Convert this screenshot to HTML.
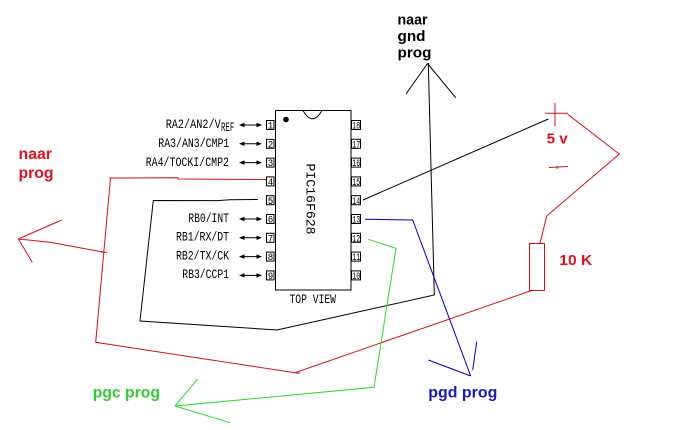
<!DOCTYPE html>
<html><head><meta charset="utf-8"><style>
html,body{margin:0;padding:0;background:#fff;}
svg{display:block;}
.pl{font-family:"Liberation Mono",monospace;font-size:13px;fill:#000;}
.pn{font-family:"Liberation Mono",monospace;font-size:10px;fill:#000;}
.b{font-family:"Liberation Sans",Arial,sans-serif;font-weight:bold;}
</style></head><body>
<svg width="694" height="430" viewBox="0 0 694 430" xmlns="http://www.w3.org/2000/svg">
<rect width="694" height="430" fill="#fff"/>
<defs>
<g id="arr">
<line x1="241" y1="0" x2="260" y2="0" stroke="#000" stroke-width="1"/>
<polygon points="239,0 244.5,-2.2 244.5,2.2" fill="#000"/>
<polygon points="262,0 256.5,-2.2 256.5,2.2" fill="#000"/>
</g>
</defs>

<!-- chip body -->
<rect x="275.5" y="110.5" width="75.5" height="179.5" fill="none" stroke="#000" stroke-width="1"/>
<path d="M303 110.5 Q312.5 127 322 110.5" fill="none" stroke="#000" stroke-width="1"/>
<circle cx="286" cy="119.5" r="2.8" fill="#000"/>
<text class="pl" transform="translate(306.5,163.5) rotate(90)" font-size="22" textLength="71" lengthAdjust="spacingAndGlyphs">PIC16F628</text>
<text class="pl" x="289.5" y="303" font-size="12" textLength="46.5" lengthAdjust="spacingAndGlyphs">TOP VIEW</text>

<!-- left pin boxes -->
<g stroke="#000" stroke-width="1" fill="none">
<rect x="266.5" y="120.5" width="7.5" height="9"/>
<rect x="266.5" y="139.3" width="7.5" height="9"/>
<rect x="266.5" y="158.1" width="7.5" height="9"/>
<rect x="266.5" y="176.9" width="7.5" height="9"/>
<rect x="266.5" y="195.7" width="7.5" height="9"/>
<rect x="266.5" y="214.5" width="7.5" height="9"/>
<rect x="266.5" y="233.3" width="7.5" height="9"/>
<rect x="266.5" y="252.1" width="7.5" height="9"/>
<rect x="266.5" y="270.9" width="7.5" height="9"/>
</g>
<g class="pn">
<text x="267.8" y="128.6" textLength="5.5" lengthAdjust="spacingAndGlyphs">1</text>
<text x="267.8" y="147.4" textLength="5.5" lengthAdjust="spacingAndGlyphs">2</text>
<text x="267.8" y="166.2" textLength="5.5" lengthAdjust="spacingAndGlyphs">3</text>
<text x="267.8" y="185" textLength="5.5" lengthAdjust="spacingAndGlyphs">4</text>
<text x="267.8" y="203.8" textLength="5.5" lengthAdjust="spacingAndGlyphs">5</text>
<text x="267.8" y="222.6" textLength="5.5" lengthAdjust="spacingAndGlyphs">6</text>
<text x="267.8" y="241.4" textLength="5.5" lengthAdjust="spacingAndGlyphs">7</text>
<text x="267.8" y="260.2" textLength="5.5" lengthAdjust="spacingAndGlyphs">8</text>
<text x="267.8" y="279" textLength="5.5" lengthAdjust="spacingAndGlyphs">9</text>
</g>

<!-- right pin boxes -->
<g stroke="#000" stroke-width="1" fill="none">
<rect x="351.5" y="120.5" width="9" height="9"/>
<rect x="351.5" y="139.3" width="9" height="9"/>
<rect x="351.5" y="158.1" width="9" height="9"/>
<rect x="351.5" y="176.9" width="9" height="9"/>
<rect x="351.5" y="195.7" width="9" height="9"/>
<rect x="351.5" y="214.5" width="9" height="9"/>
<rect x="351.5" y="233.3" width="9" height="9"/>
<rect x="351.5" y="252.1" width="9" height="9"/>
<rect x="351.5" y="270.9" width="9" height="9"/>
</g>
<g class="pn">
<text x="352.3" y="128.6" textLength="8" lengthAdjust="spacingAndGlyphs">18</text>
<text x="352.3" y="147.4" textLength="8" lengthAdjust="spacingAndGlyphs">17</text>
<text x="352.3" y="166.2" textLength="8" lengthAdjust="spacingAndGlyphs">16</text>
<text x="352.3" y="185" textLength="8" lengthAdjust="spacingAndGlyphs">15</text>
<text x="352.3" y="203.8" textLength="8" lengthAdjust="spacingAndGlyphs">14</text>
<text x="352.3" y="222.6" textLength="8" lengthAdjust="spacingAndGlyphs">13</text>
<text x="352.3" y="241.4" textLength="8" lengthAdjust="spacingAndGlyphs">12</text>
<text x="352.3" y="260.2" textLength="8" lengthAdjust="spacingAndGlyphs">11</text>
<text x="352.3" y="279" textLength="8" lengthAdjust="spacingAndGlyphs">10</text>
</g>

<!-- pin labels + arrows -->
<text class="pl" x="165.7" y="128" textLength="55" lengthAdjust="spacingAndGlyphs">RA2/AN2/V</text>
<text class="pl" x="221" y="131.2" font-size="11" textLength="13.3" lengthAdjust="spacingAndGlyphs">REF</text>
<use href="#arr" y="125"/>
<text class="pl" x="158.3" y="147" textLength="71" lengthAdjust="spacingAndGlyphs">RA3/AN3/CMP1</text>
<use href="#arr" y="143.8"/>
<text class="pl" x="145.7" y="165.8" textLength="83.3" lengthAdjust="spacingAndGlyphs">RA4/TOCKI/CMP2</text>
<use href="#arr" y="162.6"/>
<text class="pl" x="188.3" y="221.8" textLength="40.7" lengthAdjust="spacingAndGlyphs">RB0/INT</text>
<use href="#arr" y="219"/>
<text class="pl" x="176" y="240.6" textLength="53" lengthAdjust="spacingAndGlyphs">RB1/RX/DT</text>
<use href="#arr" y="237.8"/>
<text class="pl" x="176" y="259.4" textLength="53" lengthAdjust="spacingAndGlyphs">RB2/TX/CK</text>
<use href="#arr" y="256.6"/>
<text class="pl" x="182.3" y="278.2" textLength="46.7" lengthAdjust="spacingAndGlyphs">RB3/CCP1</text>
<use href="#arr" y="275.4"/>

<!-- black wires -->
<g stroke="#000" stroke-width="1" fill="none">
<polyline points="258,199.5 230,199.8 217,200.6 153.3,200.5 140,321 277,330 434.3,295 428.3,63"/>
<line x1="427.5" y1="63.5" x2="406" y2="94"/>
<line x1="427.5" y1="63.5" x2="455.7" y2="97.7"/>
<line x1="363" y1="200" x2="548.3" y2="119"/>
</g>

<!-- red wires -->
<g stroke="#d0101c" stroke-width="1" fill="none">
<polyline points="266,179.5 178,179 178,177.8 110.5,178 95.7,342.3 295,372.7 531.7,290.5"/>
<line x1="109" y1="178" x2="113" y2="178"/>
<polyline points="18.3,239 50,242.3 104,252.3"/>
<line x1="18.3" y1="239" x2="61.7" y2="220"/>
<line x1="18.3" y1="239" x2="32.3" y2="262.3"/>
<line x1="101" y1="252.3" x2="107" y2="252.3"/>
<line x1="295" y1="372.7" x2="300" y2="373.3"/>
<line x1="555" y1="103" x2="555" y2="126"/>
<line x1="545" y1="113.3" x2="568" y2="113.3"/>
<polyline points="567.7,114.3 619.3,154 546.7,216 540,243.3"/>
<line x1="549" y1="167.5" x2="568" y2="166.5"/>
<line x1="557" y1="166" x2="557" y2="169"/>
<rect x="529.5" y="243.5" width="15" height="47"/>
</g>

<!-- blue wires -->
<g stroke="#0000b0" stroke-width="1" fill="none">
<polyline points="365,219.3 412.7,220 470.7,376"/>
<line x1="470.7" y1="376" x2="428.3" y2="360"/>
<line x1="476.7" y1="341.7" x2="472.7" y2="370"/>
</g>

<!-- green wires -->
<g stroke="#22dd22" stroke-width="1" fill="none">
<polyline points="368.3,239.3 396,248.3 374,387.3 175,406"/>
<line x1="175" y1="406" x2="197.7" y2="379"/>
<line x1="175" y1="406" x2="230" y2="422.7"/>
</g>

<!-- labels -->
<g class="b" font-size="15" fill="#000">
<text x="397.5" y="24.5" textLength="30" lengthAdjust="spacingAndGlyphs">naar</text>
<text x="397.5" y="41" textLength="28" lengthAdjust="spacingAndGlyphs">gnd</text>
<text x="397.5" y="57.5" textLength="34" lengthAdjust="spacingAndGlyphs">prog</text>
</g>
<g class="b" font-size="16" fill="#dd1122">
<text x="18.5" y="159" textLength="33.5" lengthAdjust="spacingAndGlyphs">naar</text>
<text x="18.5" y="178" textLength="35" lengthAdjust="spacingAndGlyphs">prog</text>
<text x="546.7" y="143.3" font-size="15" textLength="21" lengthAdjust="spacingAndGlyphs">5 v</text>
<text x="559.3" y="265" font-size="15" textLength="33" lengthAdjust="spacingAndGlyphs">10 K</text>
</g>
<text class="b" x="92.7" y="397.7" font-size="16" fill="#33cc33" textLength="67.3" lengthAdjust="spacingAndGlyphs">pgc prog</text>
<text class="b" x="428.3" y="397.7" font-size="16" fill="#1a1ab8" textLength="69" lengthAdjust="spacingAndGlyphs">pgd prog</text>
</svg>
</body></html>
